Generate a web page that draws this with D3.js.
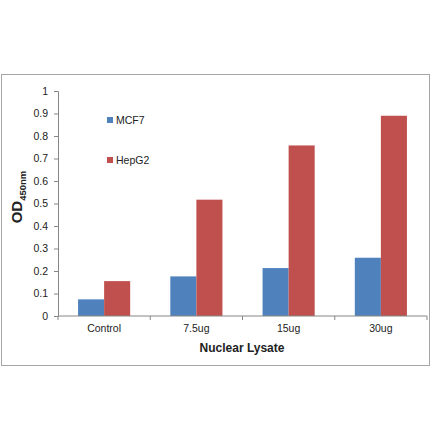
<!DOCTYPE html>
<html>
<head>
<meta charset="utf-8">
<script src="https://cdn.jsdelivr.net/npm/d3@7"></script>
<style>
  body { margin: 0; background: #fff; }
  text { font-family: "Liberation Sans", Arial, sans-serif; fill: #222; }
</style>
</head>
<body>
<div id="chart"></div>
<script>
const categories = ["Control", "7.5ug", "15ug", "30ug"];
const seriesNames = ["MCF7", "HepG2"];
const mcf7 = [0.074, 0.176, 0.213, 0.259];
const hepg2 = [0.155, 0.517, 0.758, 0.89];
const yTicks = [0, 0.1, 0.2, 0.3, 0.4, 0.5, 0.6, 0.7, 0.8, 0.9, 1];
const colors = ["#4F81BD", "#C0504D"];

const W = 440, H = 441;
const svg = d3.select("#chart").append("svg")
  .attr("width", W).attr("height", H);

// chart area frame
svg.append("rect")
  .attr("x", 1.5).attr("y", 74.5)
  .attr("width", 428).attr("height", 291)
  .attr("fill", "#fff").attr("stroke", "#a6a6a6").attr("stroke-width", 1);

const plot = { left: 58, right: 427, top: 91, bottom: 316 };

const x = d3.scaleBand().domain(categories).range([plot.left, plot.right]).paddingInner(0).paddingOuter(0);
const xs = d3.scaleBand().domain(seriesNames).range([0, x.bandwidth()]).paddingInner(0).paddingOuter(0.77);
const y = d3.scaleLinear().domain([0, 1]).range([plot.bottom, plot.top]);

const rows = categories.map((c, i) => ({ cat: c, values: [mcf7[i], hepg2[i]] }));

// bars
svg.append("g").selectAll("g")
  .data(rows).enter().append("g")
  .attr("transform", d => `translate(${x(d.cat)},0)`)
  .selectAll("rect")
  .data(d => d.values.map((v, j) => ({ name: seriesNames[j], v, j })))
  .enter().append("rect")
  .attr("x", d => xs(d.name))
  .attr("y", d => y(d.v))
  .attr("width", xs.bandwidth())
  .attr("height", d => y(0) - y(d.v))
  .attr("fill", d => colors[d.j]);

// y axis
const yAxis = svg.append("g")
  .attr("transform", `translate(${plot.left},0)`)
  .call(d3.axisLeft(y).tickValues(yTicks).tickFormat(d3.format("")).tickSize(4).tickPadding(6));
yAxis.select(".domain").attr("stroke", "#868686");
yAxis.selectAll(".tick line").attr("stroke", "#868686");
yAxis.selectAll("text").attr("font-size", 10.5).attr("fill", "#222")
  .style("font-family", "'Liberation Sans', Arial, sans-serif");

// x axis: ticks at band edges
const xAxis = svg.append("g")
  .attr("transform", `translate(0,${plot.bottom})`);
xAxis.append("line")
  .attr("x1", plot.left).attr("x2", plot.right)
  .attr("stroke", "#868686");
const edges = categories.map(c => x(c)).concat([x(categories[categories.length - 1]) + x.bandwidth()]);
xAxis.selectAll(".edge").data(edges).enter().append("line")
  .attr("x1", d => d).attr("x2", d => d)
  .attr("y1", 0).attr("y2", 4)
  .attr("stroke", "#868686");
xAxis.selectAll(".lbl").data(categories).enter().append("text")
  .attr("x", d => x(d) + x.bandwidth() / 2)
  .attr("y", 16)
  .attr("text-anchor", "middle")
  .attr("font-size", 10.5)
  .text(d => d);

// axis titles
svg.append("text")
  .attr("x", 242).attr("y", 352)
  .attr("text-anchor", "middle")
  .attr("font-size", 12).attr("font-weight", "bold")
  .text("Nuclear Lysate");

const yt = svg.append("text")
  .attr("transform", "translate(22,197) rotate(-90)")
  .attr("text-anchor", "middle")
  .attr("font-weight", "bold");
yt.append("tspan").attr("font-size", 15).text("OD");
yt.append("tspan").attr("font-size", 9.5).attr("dy", 4).text("450nm");

// legend
const legend = svg.append("g");
seriesNames.forEach((n, i) => {
  const ly = 120 + i * 40;
  legend.append("rect")
    .attr("x", 107).attr("y", ly - 3)
    .attr("width", 6).attr("height", 6)
    .attr("fill", colors[i]);
  legend.append("text")
    .attr("x", 116).attr("y", ly + 4)
    .attr("font-size", 10.5)
    .text(n);
});
</script>
</body>
</html>
